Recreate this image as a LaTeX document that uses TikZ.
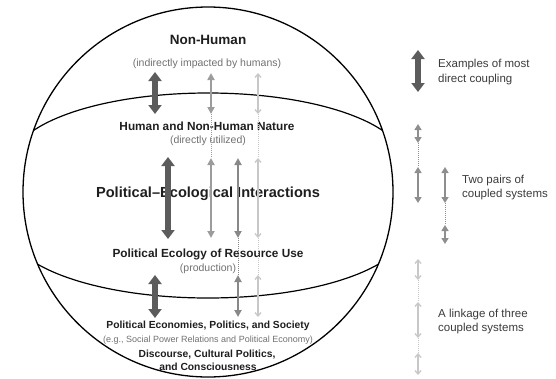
\documentclass[tikz,border=0pt]{standalone}
\usepackage{fontspec}
\setmainfont{Liberation Sans}
\usetikzlibrary{arrows.meta}
\definecolor{dk}{HTML}{5C5C5C}
\definecolor{mdA}{HTML}{9C9C9C}
\definecolor{mdB}{HTML}{888888}
\definecolor{mdL}{HTML}{8E8E8E}
\definecolor{lt}{HTML}{C8C8C8}
\definecolor{txt}{HTML}{1E1E1E}
\definecolor{sub}{HTML}{707070}
\definecolor{leg}{HTML}{3A3A3A}
\tikzset{
  bigarr/.style={draw=dk, line width=6pt, arrows={Triangle[width=13pt,length=9pt]-Triangle[width=13pt,length=9pt]}},
  medA/.style={draw=mdA, line width=2.4pt, arrows={Triangle[width=7pt,length=7pt]-Triangle[width=7pt,length=7pt]}},
  medB/.style={draw=mdB, line width=2.4pt, arrows={Triangle[width=7pt,length=7pt]-Triangle[width=7pt,length=7pt]}},
  medL/.style={draw=mdL, line width=2.4pt, arrows={Triangle[width=7pt,length=6pt]-Triangle[width=7pt,length=6pt]}},
  ltarr/.style={draw=lt, line width=1.3pt, arrows={Straight Barb[width=6pt,length=3.5pt]-Straight Barb[width=6pt,length=3.5pt]}},
  dotA/.style={draw=mdA, line width=0.5pt, dash pattern=on 1pt off 1pt},
  dotB/.style={draw=mdB, line width=0.5pt, dash pattern=on 1pt off 1pt},
  dotL/.style={draw=mdL, line width=0.5pt, dash pattern=on 1pt off 1pt},
  dotlt/.style={draw=lt, line width=0.5pt, dash pattern=on 1pt off 1pt},
  lblbig/.style={font=\bfseries\fontsize{13.5}{16}\selectfont, text=txt, anchor=base, inner sep=0pt},
  lbl/.style={font=\bfseries\fontsize{11.8}{14}\selectfont, text=txt, anchor=base, inner sep=0pt},
  lbls/.style={font=\bfseries\fontsize{10.3}{12}\selectfont, text=txt, anchor=base, inner sep=0pt},
  subl/.style={font=\fontsize{10.5}{12}\selectfont, text=sub, anchor=base, inner sep=0pt},
  subs/.style={font=\fontsize{9}{10}\selectfont, text=sub, anchor=base, inner sep=0pt},
  title/.style={font=\bfseries\fontsize{14.6}{17}\selectfont, text=txt, anchor=base, inner sep=0pt},
  legtxt/.style={font=\fontsize{11.5}{14}\selectfont, text=leg, anchor=base west, inner sep=0pt},
}
\begin{document}
\begin{tikzpicture}[x=1pt,y=-1pt]
\useasboundingbox (0,0) rectangle (556,378);
% globe
\coordinate (ctr) at (208,192);
\draw[line width=1.3pt] (ctr) circle[radius=185pt];
\begin{scope}
  \clip (ctr) circle[radius=185pt];
  \draw[line width=1.2pt] (11,163) arc[start angle=180, end angle=0, x radius=197pt, y radius=70pt];
  \draw[line width=1.2pt] (9,228) arc[start angle=180, end angle=360, x radius=199pt, y radius=70pt];
\end{scope}
% labels
\node[lblbig] (nh) at (208,44.5) {Non-Human};
\node[subl] (nhs) at (207,66) {(indirectly impacted by humans)};
\node[lbl] (hn) at (207,130) {Human and Non-Human Nature};
\node[subl] (hns) at (208,143.5) {(directly utilized)};
\node[title] (pei) at (208,197) {Political–Ecological Interactions};
\node[lbl] (pe) at (208,257) {Political Ecology of Resource Use};
\node[subl] (pes) at (208,271.5) {(production)};
\node[lbls] (ps) at (208,328) {Political Economies, Politics, and Society};
\node[subs] (pss) at (208,342) {(e.g., Social Power Relations and Political Economy)};
\node[lbls] (dc) at (207,357) {Discourse, Cultural Politics,};
\node[lbls] (dc2) at (208,370.5) {and Consciousness};
% coordinates for arrows
\coordinate (a1t) at (155,72);  \coordinate (a1b) at (155,114);
\coordinate (a2t) at (168,157); \coordinate (a2b) at (168,239);
\coordinate (a3t) at (155,275); \coordinate (a3b) at (155,318);
\coordinate (m1t) at (211,73);  \coordinate (m1b) at (211,114);
\coordinate (m2t) at (211,158); \coordinate (m2b) at (211,238);
\coordinate (n1t) at (238,158); \coordinate (n1b) at (238,238);
\coordinate (n2t) at (238,275); \coordinate (n2b) at (238,317);
\coordinate (l1t) at (258,73);  \coordinate (l1b) at (258,114);
\coordinate (l2t) at (258,158); \coordinate (l2b) at (258,238);
\coordinate (l3t) at (258,275); \coordinate (l3b) at (258,317);
% big arrows
\draw[bigarr] (a1t) -- (a1b);
\draw[bigarr] (a2t) -- (a2b);
\draw[bigarr] (a3t) -- (a3b);
% medium column A (two pairs, upper)
\draw[medA] (m1t) -- (m1b);
\draw[dotA] (m1b) -- (m2t);
\draw[medA] (m2t) -- (m2b);
% medium column B (two pairs, lower)
\draw[medB] (n1t) -- (n1b);
\draw[dotB] (n1b) -- (n2t);
\draw[medB] (n2t) -- (n2b);
% light column (linkage of three)
\draw[ltarr] (l1t) -- (l1b);
\draw[dotlt] (l1b) -- (l2t);
\draw[ltarr] (l2t) -- (l2b);
\draw[dotlt] (l2b) -- (l3t);
\draw[ltarr] (l3t) -- (l3b);
% legend
\coordinate (g1t) at (418,50); \coordinate (g1b) at (418,92);
\draw[bigarr] (g1t) -- (g1b);
\node[legtxt] (g1a) at (438,67) {Examples of most};
\node[legtxt] (g1c) at (438,82) {direct coupling};
\coordinate (p1t) at (418,124); \coordinate (p1b) at (418,143);
\coordinate (p2t) at (418,167); \coordinate (p2b) at (418,203);
\coordinate (q1t) at (445,167); \coordinate (q1b) at (445,203);
\coordinate (q2t) at (445,225); \coordinate (q2b) at (445,244);
\draw[medL] (p1t) -- (p1b);
\draw[dotL] (p1b) -- (p2t);
\draw[medL] (p2t) -- (p2b);
\draw[medL] (q1t) -- (q1b);
\draw[dotL] (q1b) -- (q2t);
\draw[medL] (q2t) -- (q2b);
\node[legtxt] (g2a) at (462,183) {Two pairs of};
\node[legtxt] (g2c) at (462,197) {coupled systems};
\coordinate (r1t) at (418,259); \coordinate (r1b) at (418,280);
\coordinate (r2t) at (418,302); \coordinate (r2b) at (418,338);
\coordinate (r3t) at (418,353); \coordinate (r3b) at (418,375);
\draw[ltarr] (r1t) -- (r1b);
\draw[dotlt] (r1b) -- (r2t);
\draw[ltarr] (r2t) -- (r2b);
\draw[dotlt] (r2b) -- (r3t);
\draw[ltarr] (r3t) -- (r3b);
\node[legtxt] (g3a) at (438,317) {A linkage of three};
\node[legtxt] (g3c) at (438,331) {coupled systems};
\end{tikzpicture}
\end{document}
